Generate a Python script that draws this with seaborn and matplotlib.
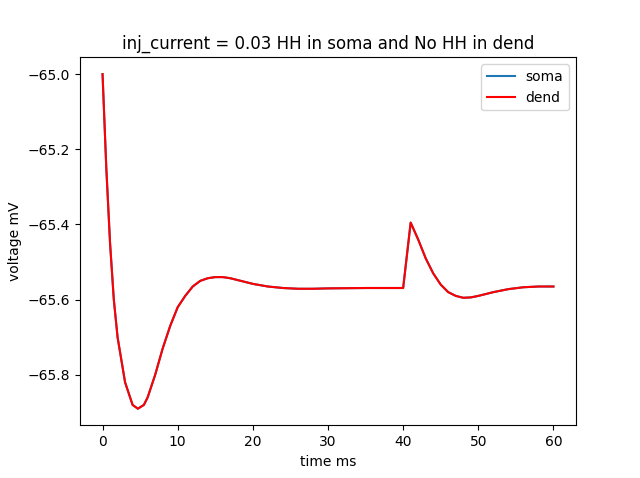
import matplotlib
matplotlib.use("Agg")
import matplotlib.pyplot as plt
import seaborn as sns
import pandas as pd

# values (soma and dend overlap)
time_ms = [0, 0.5, 1, 1.5, 2, 3, 4, 4.7, 5.5, 6, 7, 8, 9, 10, 11, 12, 13, 14, 15, 16,
           17, 18, 19, 20, 22, 24, 26, 28, 30, 35, 40, 41, 42, 43, 44, 45, 46, 47,
           48, 49, 50, 52, 54, 56, 58, 60]
voltage = [-65.0, -65.25, -65.45, -65.6, -65.7, -65.82, -65.88, -65.89, -65.88, -65.86,
           -65.80, -65.73, -65.67, -65.62, -65.59, -65.565, -65.55, -65.543, -65.54, -65.54,
           -65.543, -65.548, -65.553, -65.558, -65.565, -65.569, -65.571, -65.571, -65.570,
           -65.569, -65.569, -65.395, -65.44, -65.49, -65.53, -65.56, -65.58, -65.59,
           -65.595, -65.594, -65.59, -65.58, -65.572, -65.567, -65.565, -65.565]

df = pd.DataFrame({"t": time_ms, "v": voltage})

fig, ax = plt.subplots(figsize=(6.4, 4.78), dpi=100)
sns.lineplot(data=df, x="t", y="v", ax=ax, color="#1f77b4", label="soma")
sns.lineplot(data=df, x="t", y="v", ax=ax, color="red", label="dend")
ax.set_xlabel("time ms")
ax.set_ylabel("voltage mV")
ax.set_title("inj_current = 0.03 HH in soma and No HH in dend")
ax.set_xticks([0, 10, 20, 30, 40, 50, 60])
ax.legend(loc="upper right")
fig.savefig("out.png")
